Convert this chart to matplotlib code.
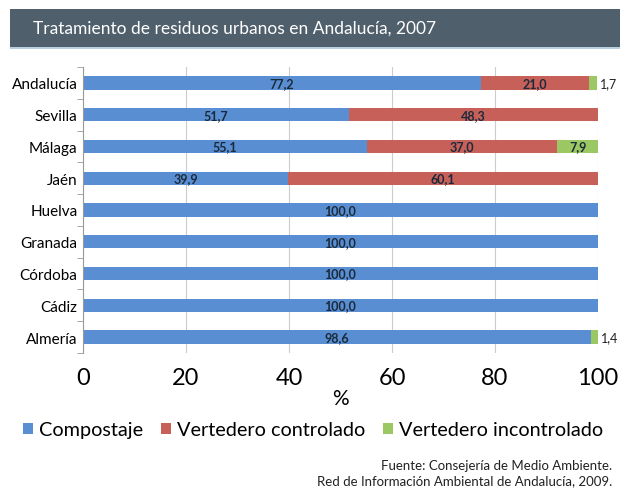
import matplotlib
matplotlib.use("Agg")
import matplotlib.pyplot as plt
from matplotlib.patches import Rectangle
import numpy as np

plt.rcParams['font.family'] = ['Lato', 'DejaVu Sans']

categories = ["Andalucía", "Sevilla", "Málaga", "Jaén", "Huelva", "Granada", "Córdoba", "Cádiz", "Almería"]
compostaje = [77.2, 51.7, 55.1, 39.9, 100.0, 100.0, 100.0, 100.0, 98.6]
controlado = [21.0, 48.3, 37.0, 60.1, 0, 0, 0, 0, 0]
incontrolado = [1.7, 0, 7.9, 0, 0, 0, 0, 0, 1.4]
series_names = ["Compostaje", "Vertedero controlado", "Vertedero incontrolado"]
colors = ["#5a8ed3", "#c8605a", "#9cc864"]
xticks = [0, 20, 40, 60, 80, 100]

fig = plt.figure(figsize=(6.2, 4.89), dpi=100)
fig.patch.set_facecolor("white")

# title banner
fig.patches.append(Rectangle((10/620, 1-48/489), 1, 38/489, transform=fig.transFigure,
                             facecolor="#4f5f6c", edgecolor="none"))
fig.patches.append(Rectangle((10/620, 1-50/489), 1, 2/489, transform=fig.transFigure,
                             facecolor="#b8cfe0", edgecolor="none"))
fig.text(33/620, 1-29/489, "Tratamiento de residuos urbanos en Andalucía, 2007",
         color="white", fontsize=12.5, va="center", ha="left")

ax = fig.add_axes([83/620, 1-354/489, 515/620, 286/489])
y = np.arange(len(categories))
h = 0.42
data = [compostaje, controlado, incontrolado]
left = np.zeros(len(categories))
for vals, c, name in zip(data, colors, series_names):
    vals = np.array(vals)
    ax.barh(y, vals, left=left, height=h, color=c, label=name, zorder=2)
    for i, v in enumerate(vals):
        if v <= 0:
            continue
        txt = f"{v:.1f}".replace(".", ",")
        if v < 3:
            ax.text(left[i] + v + 0.5, y[i], txt, ha="left", va="center",
                    fontsize=9, color="#222222", zorder=3)
        else:
            ax.text(left[i] + v / 2, y[i], txt, ha="center", va="center",
                    fontsize=9, fontweight="bold", color="#1a2a3a", zorder=3)
    left = left + vals

ax.set_xlim(0, 100)
ax.set_ylim(len(categories) - 0.5, -0.5)
ax.set_yticks(y)
ax.set_yticklabels(categories, fontsize=11)
ax.tick_params(axis="y", length=0, pad=4)
ax.set_yticks(np.arange(-0.5, len(categories), 1), minor=True)
ax.tick_params(axis="y", which="minor", length=4, color="#999999")
ax.set_xticks(xticks)
ax.set_xticklabels([str(t) for t in xticks], fontsize=17)
ax.tick_params(axis="x", length=0, pad=10)
ax.set_xlabel("%", fontsize=15, labelpad=0)
ax.grid(axis="x", color="#cccccc", linewidth=0.8, zorder=0)
for s in ["top", "right", "bottom"]:
    ax.spines[s].set_visible(False)
ax.spines["left"].set_color("#999999")

handles, labels = ax.get_legend_handles_labels()
fig.legend(handles, labels, loc="center", bbox_to_anchor=(0.505, 1-431/489), ncol=3,
           frameon=False, fontsize=14.3, handlelength=0.5, handleheight=0.5,
           handletextpad=0.3, columnspacing=0.9, borderpad=0)

fig.text(612/620, 1-466/489, "Fuente: Consejería de Medio Ambiente.", ha="right",
         va="center", fontsize=9.5, color="#222222")
fig.text(612/620, 1-481/489, "Red de Información Ambiental de Andalucía, 2009.", ha="right",
         va="center", fontsize=9.5, color="#222222")

fig.savefig("out.png", dpi=100)
